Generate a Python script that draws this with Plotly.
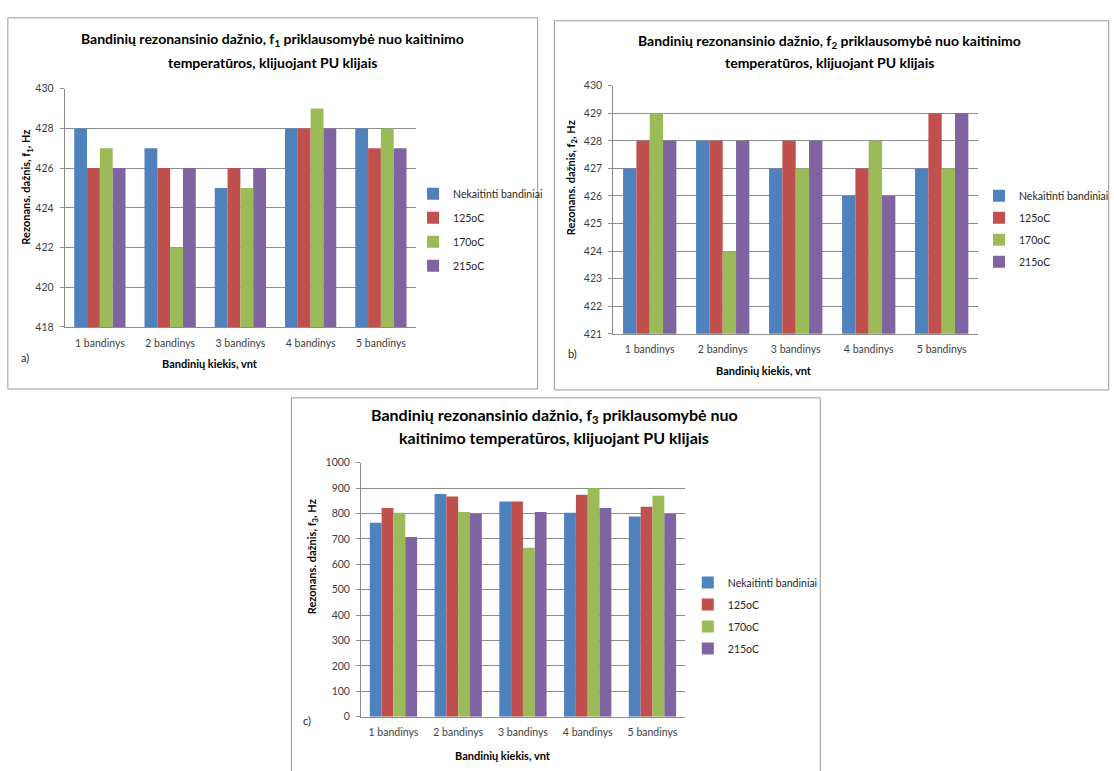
import plotly.graph_objects as go

# Sample labels and series names
categories = ["1 bandinys", "2 bandinys", "3 bandinys", "4 bandinys", "5 bandinys"]
series_names = ["Nekaitinti bandiniai", "125oC", "170oC", "215oC"]
series_colors = ["#4F81BD", "#C0504D", "#9BBB59", "#8064A2"]

# f1 resonance frequency, Hz
f1_nekaitinti = [428, 427, 425, 428, 428]
f1_125 = [426, 426, 426, 428, 427]
f1_170 = [427, 422, 425, 429, 428]
f1_215 = [426, 426, 426, 428, 427]

# f2 resonance frequency, Hz
f2_nekaitinti = [427, 428, 427, 426, 427]
f2_125 = [428, 428, 428, 427, 429]
f2_170 = [429, 424, 427, 428, 427]
f2_215 = [428, 428, 428, 426, 429]

# f3 resonance frequency, Hz
f3_nekaitinti = [764, 877, 848, 803, 788]
f3_125 = [822, 867, 848, 874, 827]
f3_170 = [803, 806, 665, 900, 870]
f3_215 = [708, 799, 806, 822, 798]

W, H = 1114, 771
FONT = "Lato"
GRID = "#8c8c8c"
TICKFONT = dict(family=FONT, size=10.5, color="#404040")


def px(x):
    return x / W


def py(y):
    return 1 - y / H


panels = [
    dict(key="", data=[f1_nekaitinti, f1_125, f1_170, f1_215],
         plot=(66, 424, 84, 326), rng=[418, 430], dtick=2,
         border=(8, 548, 12, 389), legend="legend", leg=(421, 176), gap=5),
    dict(key="2", data=[f2_nekaitinti, f2_125, f2_170, f2_215],
         plot=(625, 997, 81, 333), rng=[421, 430], dtick=1,
         border=(565, 1130, 15, 390), legend="legend2", leg=(998, 178), gap=3),
    dict(key="3", data=[f3_nekaitinti, f3_125, f3_170, f3_215],
         plot=(368, 698, 464, 722), rng=[0, 1000], dtick=100,
         border=(297, 836, 398, 790), legend="legend3", leg=(701, 571), gap=3),
]

fig = go.Figure()
layout = dict(
    width=W, height=H, margin=dict(l=0, r=0, t=0, b=0),
    paper_bgcolor="white", plot_bgcolor="white",
    barmode="group", bargap=0.27, bargroupgap=0,
    font=dict(family=FONT, color="#000000"),
    shapes=[], annotations=[],
)

for p in panels:
    k = p["key"]
    xa, ya = "x" + k, "y" + k
    for name, vals, col in zip(series_names, p["data"], series_colors):
        fig.add_trace(go.Bar(
            x=categories, y=vals, name=name, xaxis=xa, yaxis=ya,
            marker=dict(color=col, line=dict(width=0)),
            legend=p["legend"], legendgroup=p["legend"] + name,
        ))
    x0, x1, y0, y1 = p["plot"]
    layout["xaxis" + k] = dict(
        domain=[px(x0), px(x1)], anchor=ya, showline=True, linecolor=GRID,
        linewidth=1, ticks="", showgrid=False, tickfont=TICKFONT,
        ticklabelstandoff=6, fixedrange=True,
    )
    layout["yaxis" + k] = dict(
        domain=[py(y1), py(y0)], anchor=xa, range=p["rng"], dtick=p["dtick"],
        showline=True, linecolor=GRID, linewidth=1, showgrid=True,
        gridcolor=GRID, gridwidth=1, ticks="outside", ticklen=4,
        tickcolor=GRID, tickfont=TICKFONT, ticklabelstandoff=4,
        zeroline=False, fixedrange=True,
    )
    lx, ly = p["leg"]
    layout[p["legend"]] = dict(
        x=px(lx), y=py(ly), xanchor="left", yanchor="top",
        bgcolor="rgba(0,0,0,0)", font=dict(family=FONT, size=10.5, color="#262626"),
        traceorder="grouped", tracegroupgap=p["gap"],
    )
    bx0, bx1, by0, by1 = p["border"]
    layout["shapes"].append(dict(
        type="rect", xref="paper", yref="paper",
        x0=px(bx0), x1=px(bx1), y0=py(by1), y1=py(by0),
        line=dict(color="#9a9a9a", width=1), fillcolor="rgba(0,0,0,0)", layer="below",
    ))


def note(text, x, y, size, bold=True, angle=0, color="#000000"):
    t = "<b>" + text + "</b>" if bold else text
    layout["annotations"].append(dict(
        text=t, x=px(x), y=py(y), xref="paper", yref="paper",
        xanchor="center", yanchor="middle", showarrow=False, textangle=angle,
        font=dict(family=FONT, size=size, color=color),
    ))


# Panel a
note("Bandinių rezonansinio dažnio, f<sub>1</sub> priklausomybė nuo kaitinimo", 278, 34, 14)
note("temperatūros, klijuojant PU klijais", 278, 57, 14)
note("Rezonans. dažnis, f<sub>1</sub>, Hz", 27, 184, 11, angle=-90)
note("Bandinių kiekis, vnt", 214, 363, 11)
note("a)", 25, 357, 11, bold=False, color="#262626")

# Panel b
note("Bandinių rezonansinio dažnio, f<sub>2</sub> priklausomybė nuo kaitinimo", 845, 36, 14)
note("temperatūros, klijuojant PU klijais", 845, 57, 14)
note("Rezonans. dažnis, f<sub>2</sub>, Hz", 582, 175, 11, angle=-90)
note("Bandinių kiekis, vnt", 779, 370, 11)
note("b)", 583, 353, 11, bold=False, color="#262626")

# Panel c
note("Bandinių rezonansinio dažnio, f<sub>3</sub> priklausomybė nuo", 565, 416, 16)
note("kaitinimo temperatūros, klijuojant PU klijais", 565, 438, 16)
note("Rezonans. dažnis, f<sub>3</sub>, Hz", 318, 560, 11, angle=-90)
note("Bandinių kiekis, vnt", 513, 761, 11)
note("c)", 313, 726, 11, bold=False, color="#262626")

fig.update_layout(**layout)
fig.write_html("out.html")
